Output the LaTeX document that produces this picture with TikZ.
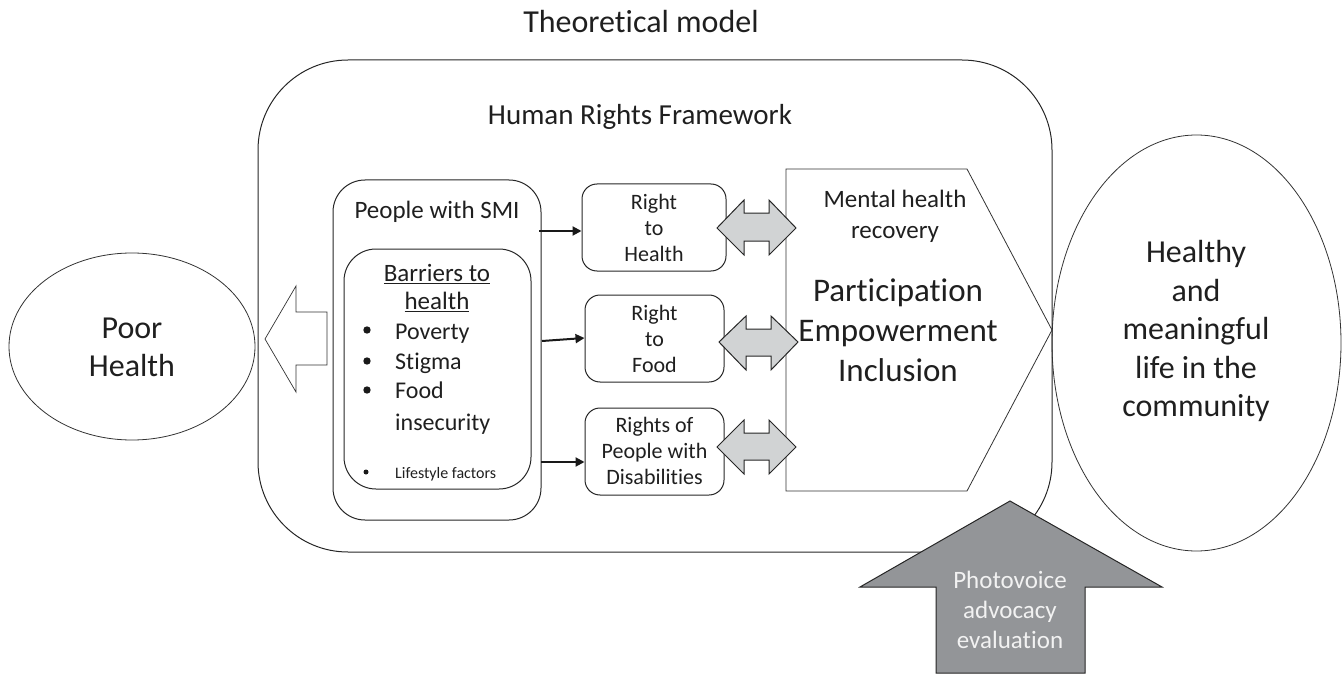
\documentclass[tikz,border=0pt]{standalone}
\usepackage{fontspec}
\setmainfont[Ligatures=NoCommon]{Carlito}
\usetikzlibrary{arrows.meta}
\definecolor{lightg}{RGB}{209,211,212}
\definecolor{darkg}{RGB}{147,149,152}
\tikzset{
  x=1pt,y=-1pt,
  line/.style={draw=black!85,line width=1pt},
  thinline/.style={draw=black!80,line width=0.8pt},
  rbox/.style={line,rounded corners=#1},
  txt/.style={align=center,inner sep=0pt,text=black!88},
  conn/.style={draw=black!90,line width=2pt,-{Triangle[length=9pt,width=9pt]}},
  dbl/.style={draw=black!85,line width=1pt,fill=lightg,line join=miter}
}
\newcommand{\fs}[1]{\fontsize{#1}{#1}\selectfont}
\begin{document}
\begin{tikzpicture}
\useasboundingbox (0,0) rectangle (1342,674);
% containers
\draw[rbox=90pt] (258,60) rectangle (1052,552);
\coordinate (peopleNW) at (333,180);
\coordinate (peopleSE) at (541,520);
\draw[rbox=32pt] (peopleNW) rectangle (peopleSE);
\draw[rbox=32pt] (344,249) rectangle (531,489);
\node[rbox=15pt,minimum width=144pt,minimum height=87pt,inner sep=0pt] (rh) at (654,227.5) {};
\node[rbox=15pt,minimum width=139pt,minimum height=87pt,inner sep=0pt] (rf) at (654.5,338.5) {};
\node[rbox=15pt,minimum width=139pt,minimum height=87pt,inner sep=0pt] (rd) at (654.5,451.5) {};
% pentagon
\draw[thinline] (786,169) -- (967,169) -- (1052,330) -- (967,491) -- (786,491) -- cycle;
% double arrows
\draw[dbl] (717,228) -- (744,200) -- (744,213) -- (769,213) -- (769,200) -- (796,228) -- (769,255) -- (769,241) -- (744,241) -- (744,255) -- cycle;
\draw[dbl] (719,342) -- (746,316) -- (746,329) -- (771,329) -- (771,316) -- (798,342) -- (771,370) -- (771,356) -- (746,356) -- (746,370) -- cycle;
\draw[dbl] (717,447) -- (744,420) -- (744,433) -- (769,433) -- (769,420) -- (796,447) -- (769,474) -- (769,460) -- (744,460) -- (744,474) -- cycle;
% ellipses
\draw[thinline] (132,346.5) ellipse [x radius=123,y radius=93.5];
\draw[thinline] (1196.5,343) ellipse [x radius=144.5,y radius=208];
% left block arrow
\draw[thinline,line width=0.7pt] (265,339) -- (296,286) -- (296,312) -- (327,312) -- (327,365) -- (296,365) -- (296,392) -- cycle;
% up arrow
\draw[draw=black!85,line width=1pt,fill=darkg] (1010,501) -- (1162,587) -- (1085,587) -- (1085,673) -- (936,673) -- (936,587) -- (860,587) -- cycle;
% connectors
\coordinate (a1) at (539,231);
\coordinate (a2) at (542,341);
\coordinate (a3) at (541,462);
\draw[conn] (a1) -- (rh.west |- a1);
\draw[conn] (a2) -- ([yshift=0.5pt]rf.west);
\draw[conn] (a3) -- (rd.west |- a3);
% text
\node[txt,font=\fs{32},anchor=base] (title) at (641,33) {Theoretical model};
\node[txt,font=\fs{29},anchor=base] (hrf) at (640,125) {Human Rights Framework};
\node[txt,font=\fs{25}] (smi) at (437,212) {People with SMI};
\node[txt,font=\fs{25},align=center] (barr) at (437,288) {\underline{Barriers to}\\[3pt]\underline{health}};
\node[txt,font=\fs{24},anchor=base west] (b1) at (395,339) {Poverty};
\node[txt,font=\fs{24},anchor=base west] (b2) at (395,369) {Stigma};
\node[txt,font=\fs{24},anchor=base west] (b3) at (395,398) {Food};
\node[txt,font=\fs{24},anchor=base west] (b4) at (395,430) {insecurity};
\node[txt,font=\fs{16},anchor=base west] (b5) at (395,478) {Lifestyle factors};
\foreach \n/\yy in {1/330,2/361,3/390}{\fill[black!90] (367,\yy) circle (3.7) coordinate (d\n);}
\fill[black!90] (366,472) circle (2.5);
\node[txt,font=\fs{22}] (t1) at (654,228) {Right\\[4pt]to\\[4pt]Health};
\node[txt,font=\fs{22}] (t2) at (654.5,339) {Right\\[4pt]to\\[4pt]Food};
\node[txt,font=\fs{22}] (t3) at (654.5,451) {Rights of\\[4pt]People with\\[4pt]Disabilities};
\node[txt,font=\fs{25}] (mh) at (895,216) {Mental health\\[6pt]recovery};
\node[txt,font=\fs{33}] (pei) at (898,330) {Participation\\[7pt]Empowerment\\[7pt]Inclusion};
\node[txt,font=\fs{32}] (ph) at (132,347) {Poor\\[6pt]Health};
\node[txt,font=\fs{32}] (hl) at (1196,331) {Healthy\\[6.5pt]and\\[6.5pt]meaningful\\[6.5pt]life in the\\[6.5pt]community};
\node[txt,font=\fs{25},text=white!95!black] (pv) at (1010,610) {Photovoice\\[5pt]advocacy\\[5pt]evaluation};
\end{tikzpicture}
\end{document}
